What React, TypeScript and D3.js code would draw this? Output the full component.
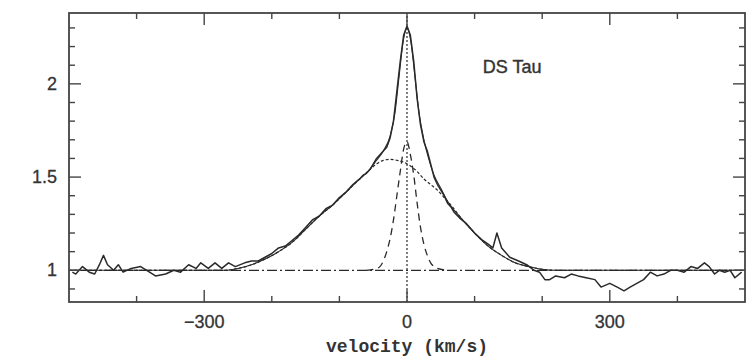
import React from "react";
import * as d3 from "d3";

// ---- data (velocity km/s, normalized flux) ----
const observed: [number, number][] = [
  [-495, 0.99], [-490, 0.98], [-480, 1.02], [-470, 0.99], [-462, 0.98], [-455, 1.03], [-449, 1.08], [-443, 1.03],
  [-434, 1.0], [-427, 1.03], [-420, 0.99], [-408, 1.01], [-394, 1.02], [-385, 1.0], [-372, 0.97],
  [-357, 0.98], [-345, 1.0], [-335, 0.99], [-323, 1.03], [-312, 1.01], [-305, 1.04], [-294, 1.01],
  [-284, 1.04], [-274, 1.01], [-264, 1.04], [-254, 1.02], [-240, 1.04], [-230, 1.05], [-220, 1.05],
  [-210, 1.07], [-200, 1.09], [-190, 1.12], [-180, 1.13], [-170, 1.16], [-160, 1.19], [-150, 1.23],
  [-140, 1.27], [-130, 1.29], [-120, 1.33], [-110, 1.35], [-100, 1.39], [-90, 1.42], [-80, 1.46],
  [-70, 1.49], [-65, 1.51], [-60, 1.52], [-55, 1.54], [-50, 1.57], [-45, 1.6], [-40, 1.62],
  [-35, 1.64], [-30, 1.66], [-25, 1.71], [-20, 1.8], [-15, 1.96], [-10, 2.12], [-5, 2.26], [0, 2.31],
  [5, 2.26], [10, 2.12], [15, 1.92], [20, 1.78], [25, 1.69], [30, 1.64], [35, 1.57], [40, 1.5],
  [45, 1.46], [50, 1.43], [55, 1.4], [60, 1.36], [65, 1.34], [70, 1.31], [78, 1.28], [88, 1.25],
  [100, 1.2], [112, 1.16], [120, 1.14], [127, 1.12], [133, 1.2], [140, 1.12], [152, 1.07], [165, 1.05],
  [177, 1.03], [188, 1.0], [196, 0.99], [204, 0.95], [211, 0.95], [220, 0.97], [233, 0.96], [243, 0.98],
  [253, 0.97], [265, 0.96], [278, 0.95], [287, 0.91], [300, 0.93], [311, 0.91], [321, 0.89], [330, 0.91],
  [340, 0.93], [350, 0.95], [360, 0.99], [370, 0.97], [380, 0.98], [390, 1.0], [400, 1.0], [410, 0.99],
  [420, 1.02], [430, 1.01], [440, 1.04], [447, 1.02], [455, 0.98], [462, 1.0], [470, 0.99], [478, 1.0],
  [485, 0.96], [495, 0.99],
];

const modelSum: [number, number][] = [
  [-500, 1.0], [-270, 1.0], [-250, 1.01], [-230, 1.03], [-210, 1.06], [-190, 1.1], [-170, 1.15],
  [-150, 1.22], [-130, 1.29], [-110, 1.35], [-90, 1.42], [-70, 1.49], [-55, 1.54], [-45, 1.59],
  [-35, 1.64], [-25, 1.72], [-18, 1.84], [-12, 2.03], [-6, 2.22], [0, 2.3], [6, 2.22], [12, 2.03],
  [18, 1.84], [25, 1.7], [32, 1.6], [40, 1.51], [50, 1.44], [60, 1.37], [80, 1.28], [100, 1.2],
  [120, 1.13], [140, 1.08], [160, 1.04], [180, 1.02], [200, 1.005], [220, 1.0], [500, 1.0],
];

const broadComp: [number, number][] = [
  [-500, 1.0], [-270, 1.0], [-250, 1.01], [-230, 1.03], [-210, 1.06], [-190, 1.1], [-170, 1.15],
  [-150, 1.22], [-130, 1.29], [-110, 1.35], [-90, 1.42], [-70, 1.49], [-55, 1.54], [-45, 1.57],
  [-35, 1.59], [-25, 1.595], [-15, 1.59], [-5, 1.58], [5, 1.56], [15, 1.53], [25, 1.49], [35, 1.46],
  [45, 1.43], [55, 1.39], [65, 1.35], [80, 1.28], [100, 1.2], [120, 1.13], [140, 1.08], [160, 1.04],
  [180, 1.02], [200, 1.005], [220, 1.0], [500, 1.0],
];

const narrowComp: [number, number][] = [
  [-60, 1.0], [-45, 1.01], [-40, 1.02], [-35, 1.05], [-30, 1.1], [-25, 1.17], [-20, 1.27], [-15, 1.4],
  [-10, 1.53], [-5, 1.65], [0, 1.69], [5, 1.62], [10, 1.51], [15, 1.36], [20, 1.23], [25, 1.14],
  [30, 1.08], [35, 1.04], [40, 1.02], [45, 1.01], [60, 1.0],
];

const continuumLevel = 1.0;
const xDomain: [number, number] = [-500, 500];
const yDomain: [number, number] = [0.83, 2.38];
const xMajorTicks = [-300, 0, 300];
const xMinorTicks = [-400, -200, -100, 100, 200, 400];
const yMajorTicks = [1, 1.5, 2];
const yMinorTicks = [0.9, 1.1, 1.2, 1.3, 1.4, 1.6, 1.7, 1.8, 1.9, 2.1, 2.2, 2.3];
const xLabel = "velocity (km/s)";
const starLabel = "DS Tau";

const W = 748;
const H = 358;
const M = { left: 69, right: 3, top: 13, bottom: 56 };

export default function App() {
  const x = d3.scaleLinear().domain(xDomain).range([M.left, W - M.right]);
  const y = d3.scaleLinear().domain(yDomain).range([H - M.bottom, M.top]);
  const x0 = M.left, x1 = W - M.right, y0 = H - M.bottom, y1 = M.top;

  const lineLin = d3.line<[number, number]>().x(d => x(d[0])).y(d => y(d[1]));
  const lineSmooth = d3.line<[number, number]>().x(d => x(d[0])).y(d => y(d[1])).curve(d3.curveMonotoneX);

  const ink = "#2a2a2a";
  const fmt = (v: number) => (v < 0 ? "\u2212" + Math.abs(v) : String(v));

  return (
    <svg width={W} height={H} style={{ position: "absolute", left: 0, top: 0, background: "#fff" }}
      fontFamily="'Liberation Sans', Arial, sans-serif">
      <defs>
        <clipPath id="plot">
          <rect x={x0} y={y1} width={x1 - x0} height={y0 - y1} />
        </clipPath>
      </defs>
      <g clipPath="url(#plot)" fill="none">
        <line x1={x0} x2={x1} y1={y(continuumLevel)} y2={y(continuumLevel)} stroke={ink} strokeWidth={1.2}
          strokeDasharray="10,3,2,3" />
        <line x1={x(0)} x2={x(0)} y1={y0} y2={y1} stroke={ink} strokeWidth={1.2} strokeDasharray="2,2" />
        <path d={lineSmooth(broadComp) || ""} stroke={ink} strokeWidth={1.2} strokeDasharray="3,2" />
        <path d={lineSmooth(narrowComp) || ""} stroke={ink} strokeWidth={1.3} strokeDasharray="7,5" />
        <path d={lineSmooth(modelSum) || ""} stroke={ink} strokeWidth={1.1} />
        <path d={lineLin(observed) || ""} stroke={ink} strokeWidth={1.5} strokeLinejoin="round" />
      </g>
      {/* ticks */}
      <g stroke="#444" strokeWidth={1.4}>
        {xMajorTicks.map(t => (
          <g key={"xM" + t}>
            <line x1={x(t)} x2={x(t)} y1={y0} y2={y0 - 12} />
            <line x1={x(t)} x2={x(t)} y1={y1} y2={y1 + 12} />
          </g>
        ))}
        {xMinorTicks.map(t => (
          <g key={"xm" + t}>
            <line x1={x(t)} x2={x(t)} y1={y0} y2={y0 - 6} />
            <line x1={x(t)} x2={x(t)} y1={y1} y2={y1 + 6} />
          </g>
        ))}
        {yMajorTicks.map(t => (
          <g key={"yM" + t}>
            <line x1={x0} x2={x0 + 12} y1={y(t)} y2={y(t)} />
            <line x1={x1} x2={x1 - 12} y1={y(t)} y2={y(t)} />
          </g>
        ))}
        {yMinorTicks.map(t => (
          <g key={"ym" + t}>
            <line x1={x0} x2={x0 + 6} y1={y(t)} y2={y(t)} />
            <line x1={x1} x2={x1 - 6} y1={y(t)} y2={y(t)} />
          </g>
        ))}
      </g>
      <rect x={x0} y={y1} width={x1 - x0} height={y0 - y1} fill="none" stroke="#444" strokeWidth={1.8} />
      {/* labels */}
      <g fill="#333" fontSize={18} stroke="#333" strokeWidth={0.3}>
        {xMajorTicks.map(t => (
          <text key={"xl" + t} x={x(t)} y={y0 + 26} textAnchor="middle">{fmt(t)}</text>
        ))}
        {yMajorTicks.map(t => (
          <text key={"yl" + t} x={x0 - 12} y={y(t)} textAnchor="end" dominantBaseline="central">{fmt(t)}</text>
        ))}
      </g>
      <text x={(x0 + x1) / 2} y={352} textAnchor="middle" fontSize={18}
        fontFamily="'Liberation Mono', 'DejaVu Sans Mono', monospace" fontWeight="bold" fill="#333">{xLabel}</text>
      <text x={x(112)} y={73} fontSize={18} fill="#333" stroke="#333" strokeWidth={0.4}>{starLabel}</text>
    </svg>
  );
}
